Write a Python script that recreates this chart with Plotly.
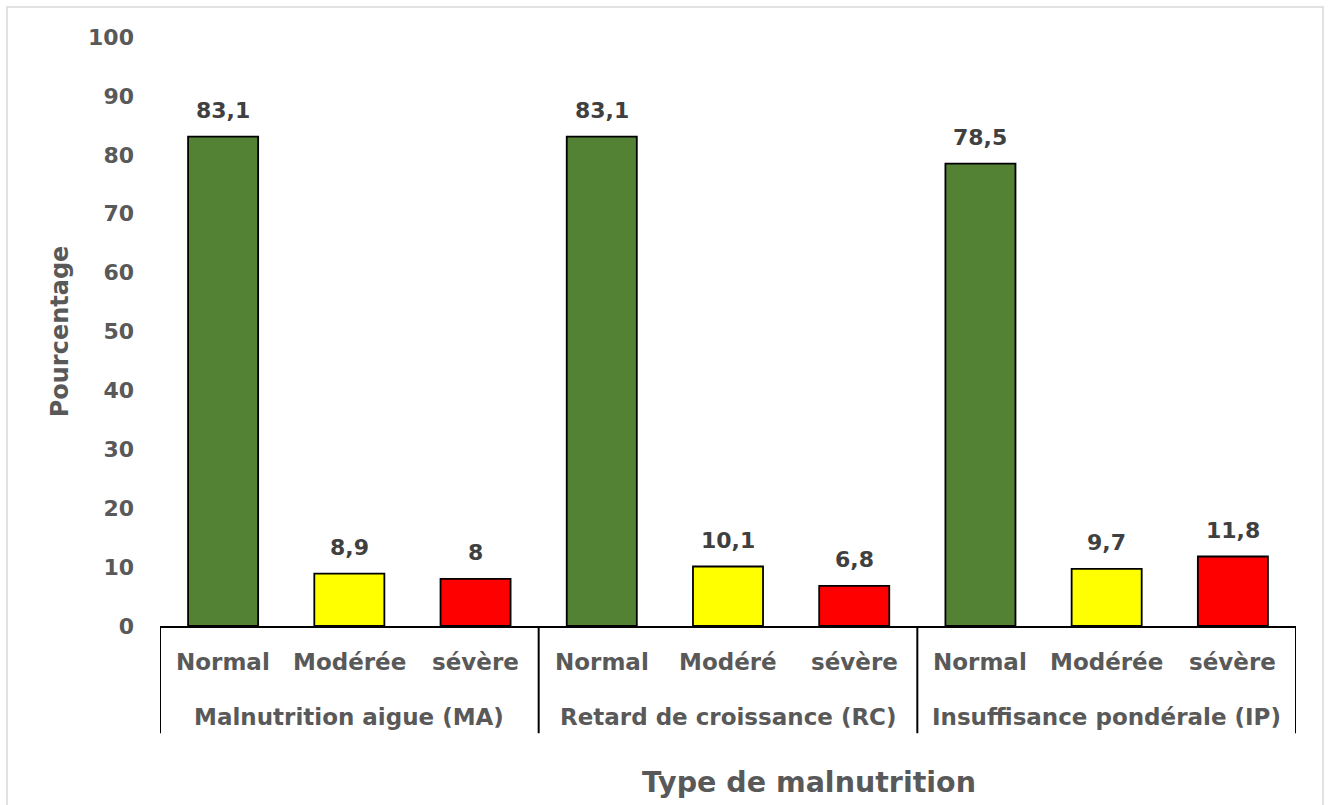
import plotly.graph_objects as go

# Malnutrition status by indicator (percent of children)
groups = ["Malnutrition aigue (MA)", "Retard de croissance (RC)", "Insuffisance pondérale (IP)"]
categories = ["Normal", "Modérée", "sévère",
              "Normal", "Modéré", "sévère",
              "Normal", "Modérée", "sévère"]
values = [83.1, 8.9, 8.0,
          83.1, 10.1, 6.8,
          78.5, 9.7, 11.8]
colors = ["#548235", "#FFFF00", "#FF0000"] * 3
y_ticks = [0, 10, 20, 30, 40, 50, 60, 70, 80, 90, 100]

FONT = "DejaVu Sans"
GREY = "#595959"
DARK = "#404040"

positions = list(range(len(values)))
labels = [f"{v:g}".replace(".", ",") for v in values]

fig = go.Figure(
    go.Bar(
        x=positions,
        y=values,
        width=0.555,
        marker=dict(color=colors, line=dict(color="black", width=1.8)),
        hoverinfo="skip",
    )
)

annotations = []
# value labels above the bars
for x, v, t in zip(positions, values, labels):
    annotations.append(dict(
        x=x, y=v, xref="x", yref="y", text=f"<b>{t}</b>", showarrow=False,
        yanchor="bottom", yshift=12,
        font=dict(family=FONT, size=22, color=DARK),
    ))
# first row of category labels
for x, c in zip(positions, categories):
    annotations.append(dict(
        x=x, y=-0.061, xref="x", yref="paper", text=f"<b>{c}</b>", showarrow=False,
        yanchor="middle", font=dict(family=FONT, size=23, color=GREY),
    ))
# second row: group labels
n_per = len(categories) // len(groups)
for g, name in enumerate(groups):
    annotations.append(dict(
        x=g * n_per + (n_per - 1) / 2, y=-0.154, xref="x", yref="paper",
        text=f"<b>{name}</b>", showarrow=False, yanchor="middle",
        font=dict(family=FONT, size=23, color=GREY),
    ))
# x-axis title, centred on the whole chart area
annotations.append(dict(
    x=0.5713, y=-0.265, xref="paper", yref="paper",
    text="<b>Type de malnutrition</b>", showarrow=False, yanchor="middle",
    font=dict(family=FONT, size=28.5, color=GREY),
))

shapes = []
# group separators below the axis
for g in range(len(groups) + 1):
    xs = g * n_per - 0.5
    shapes.append(dict(type="line", xref="x", yref="paper",
                       x0=xs, x1=xs, y0=0, y1=-0.182,
                       line=dict(color="black", width=2)))
# chart-area border
shapes.append(dict(type="rect", xref="paper", yref="paper",
                   x0=-0.1347, x1=1.0238, y0=-0.31, y1=1.0509,
                   line=dict(color="#D9D9D9", width=1.5), layer="below"))

fig.update_layout(
    width=1330, height=805,
    margin=dict(l=160, r=34, t=37, b=179),
    paper_bgcolor="white", plot_bgcolor="white",
    showlegend=False,
    font=dict(family=FONT, color=GREY),
    xaxis=dict(
        range=[-0.5, len(values) - 0.5],
        showticklabels=False, ticks="", showgrid=False, zeroline=False,
        showline=True, linecolor="black", linewidth=2,
    ),
    yaxis=dict(
        range=[0, 100], tickvals=y_ticks,
        ticktext=[f"<b>{t}</b>" for t in y_ticks],
        tickfont=dict(family=FONT, size=22, color=GREY),
        showgrid=False, zeroline=False, showline=False, ticks="",
        ticklabelstandoff=25,
        title=dict(text="<b>Pourcentage</b>", standoff=12,
                   font=dict(family=FONT, size=24, color=GREY)),
    ),
    annotations=annotations,
    shapes=shapes,
)

fig.write_html("out.html")
